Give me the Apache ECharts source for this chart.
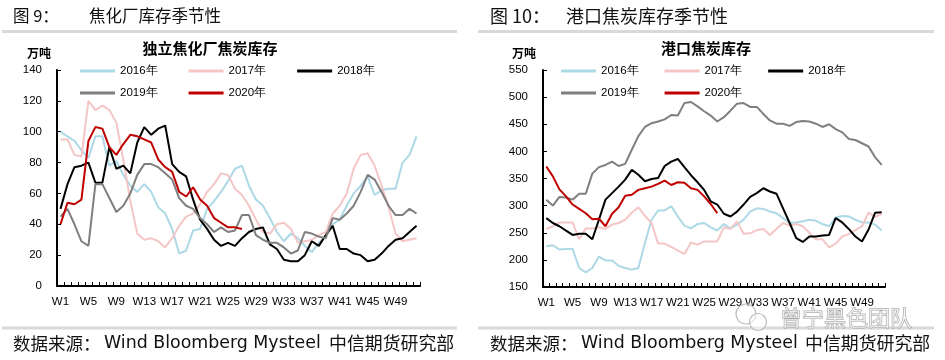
<!DOCTYPE html>
<html><head><meta charset="utf-8">
<script src="https://cdn.jsdelivr.net/npm/echarts@6/dist/echarts.min.js"></script>
<style>html,body{margin:0;padding:0;background:#fff}#c{width:945px;height:360px}</style>
</head><body><div id="c"></div>
<script>
const weeks = ['W1','W2','W3','W4','W5','W6','W7','W8','W9','W10','W11','W12','W13','W14','W15','W16','W17','W18','W19','W20','W21','W22','W23','W24','W25','W26','W27','W28','W29','W30','W31','W32','W33','W34','W35','W36','W37','W38','W39','W40','W41','W42','W43','W44','W45','W46','W47','W48','W49','W50','W51','W52'];
const yearNames = ['2016年','2017年','2018年','2019年','2020年'];

// 独立焦化厂焦炭库存 (万吨)
const coke2016 = [100,97,94,88,83,97,97,78,81,72,65,61,66,61,51,47,37,21,23,36,37,50,55,61,68,76,78,65,56,52,44,35,29,34,31,26,22,28,32,40,43,52,60,65,71,59,62,63,63,80,85,97];
const coke2017 = [95,95,85,84,120,114,117,114,106,82,55,34,30,31,29,25,31,39,45,47,53,61,66,73,72,63,59,52,43,35,34,40,41,37,28,29,30,33,35,47,52,60,76,85,86,78,65,51,34,29,30,31];
const coke2018 = [50,66,77,78,80,67,67,90,76,78,73,93,103,98,102,104,79,74,71,56,43,37,30,26,28,26,31,35,37,38,27,24,17,16,16,20,29,26,33,39,24,24,21,20,16,17,21,26,30,31,35,39];
const coke2019 = [45,50,40,29,26,66,66,57,48,52,60,72,79,79,77,73,69,57,52,50,44,40,35,38,35,36,46,46,33,30,28,28,25,21,23,35,34,32,31,44,43,47,52,61,72,69,61,52,46,46,50,47];
const coke2020 = [40,54,53,56,94,103,102,90,85,92,98,97,95,93,82,77,74,61,58,64,56,52,44,41,38,38,37];

// 港口焦炭库存 (万吨)
const port2016 = [225,227,219,220,220,185,177,185,206,199,199,189,185,182,185,231,274,291,291,299,280,263,258,266,268,260,254,266,258,265,274,289,295,294,289,286,277,268,269,271,274,272,266,262,278,281,280,274,269,269,265,254];
const port2017 = [257,262,269,269,269,238,258,258,260,257,265,268,274,287,297,281,268,230,230,224,217,211,232,228,234,234,234,260,257,271,248,249,255,257,246,257,268,263,266,262,250,238,238,223,230,243,248,255,262,287,279,285];
const port2018 = [277,268,262,254,246,248,248,238,274,311,323,335,348,366,357,345,349,351,373,381,386,371,356,343,329,308,302,285,280,289,302,316,323,332,326,322,295,268,240,233,243,243,245,246,277,269,257,243,234,256,287,288];
const port2019 = [311,300,316,315,311,322,322,359,371,375,381,373,377,403,428,445,452,455,459,467,466,489,491,483,474,466,455,463,475,488,489,482,482,469,457,451,451,447,454,456,455,451,445,450,441,435,423,421,415,409,389,375];
const port2020 = [372,354,330,317,302,294,286,275,276,262,285,297,318,320,329,332,335,340,346,338,343,342,332,329,317,303,286];

const leftTicks = {min:0, max:140, interval:20};
const rightTicks = {min:150, max:550, interval:50};

const colors = ['#ADD8E6','#F4C6C6','#000000','#7F7F7F','#C00000'];
const numFont = 'Liberation Sans, Arial, sans-serif';
const cjk = '"Noto Sans CJK SC", sans-serif';

function mk(name, data, idx, color) {
  return {name, type:'line', xAxisIndex:idx, yAxisIndex:idx, data, symbol:'none',
    lineStyle:{color, width:2}, itemStyle:{color}, animation:false};
}
const series = [];
[coke2016,coke2017,coke2018,coke2019,coke2020].forEach((d,i)=>series.push(mk(yearNames[i], d, 0, colors[i])));
[port2016,port2017,port2018,port2019,port2020].forEach((d,i)=>series.push(mk(yearNames[i], d, 1, colors[i])));

function xAx(g){ return {type:'category', gridIndex:g, data:weeks, boundaryGap:true,
  axisLine:{lineStyle:{color:'#000', width:2}},
  axisTick:{show:true, inside:true, length:4, interval:0, lineStyle:{color:'#000', width:1}},
  axisLabel:{interval:3, color:'#000', fontSize:11.5, margin:10, fontFamily:numFont},
  splitLine:{show:false}}; }
function yAx(g,t){ return {type:'value', gridIndex:g, min:t.min, max:t.max, interval:t.interval,
  axisLine:{show:true, lineStyle:{color:'#000', width:2}},
  axisTick:{show:true, inside:true, length:4, lineStyle:{color:'#000', width:1}},
  axisLabel:{color:'#000', fontSize:11.5, margin:15, fontFamily:numFont},
  splitLine:{show:false}}; }

function lg(left, top, data, gap){ return {left, top, data, padding:0, itemGap:gap, itemWidth:35, itemHeight:3, icon:'rect',
  textStyle:{color:'#000', fontSize:11.5, fontFamily:numFont}, selectedMode:false}; }

function txt(x, y, text, size, opts){ return Object.assign({type:'text', x, y, style:Object.assign({text, fill:'#111', font: size+'px '+cjk, textVerticalAlign:'middle'}, opts||{})}); }
function line(x, y, w, h){ return {type:'rect', shape:{x, y, width:w, height:h}, style:{fill:'#d9d9d9'}}; }

const graphic = [
  txt(13, 16, '图 9：', 16.5),
  txt(89, 16, '焦化厂库存季节性', 16.5),
  txt(490, 16, '图 10：', 18),
  txt(566, 16, '港口焦炭库存季节性', 18),
  line(2, 30, 455, 3), line(478, 30, 456, 3),
  line(2, 326.5, 455, 3), line(478, 326.5, 456, 3),
  {type:'text', x:27, y:53, style:{text:'万吨', fill:'#000', font:'bold 12px '+cjk, textVerticalAlign:'middle'}},
  {type:'text', x:512, y:53, style:{text:'万吨', fill:'#000', font:'bold 12px '+cjk, textVerticalAlign:'middle'}},
  {type:'text', x:210, y:48, style:{text:'独立焦化厂焦炭库存', fill:'#000', font:'bold 15px '+cjk, textAlign:'center', textVerticalAlign:'middle'}},
  {type:'text', x:706, y:48, style:{text:'港口焦炭库存', fill:'#000', font:'bold 15px '+cjk, textAlign:'center', textVerticalAlign:'middle'}},
  txt(13, 343, '数据来源：', 17.5),
  {type:'text', x:104, y:343, style:{text:'Wind Bloomberg Mysteel', fill:'#111', font:'17.4px DejaVu Sans, sans-serif', textVerticalAlign:'middle'}},
  txt(329, 343, '中信期货研究部', 17.9),
  txt(490, 343, '数据来源：', 17.5),
  {type:'text', x:581, y:343, style:{text:'Wind Bloomberg Mysteel', fill:'#111', font:'17.4px DejaVu Sans, sans-serif', textVerticalAlign:'middle'}},
  txt(805, 343, '中信期货研究部', 17.9),
  {type:'circle', z:100, shape:{cx:746, cy:314, r:10}, style:{fill:'rgba(255,255,255,0.5)', stroke:'#bbb', lineWidth:1.2}},
  {type:'circle', z:100, shape:{cx:758, cy:322, r:8.5}, style:{fill:'rgba(255,255,255,0.5)', stroke:'#bbb', lineWidth:1.2}},
  {type:'text', z:100, x:780, y:318, style:{text:'曾宁黑色团队', fill:'rgba(255,255,255,0.55)', stroke:'#a8a8a8', lineWidth:1, font:'22px '+cjk, textVerticalAlign:'middle'}}
];

const chart = echarts.init(document.getElementById('c'), null, {renderer:'canvas'});
chart.setOption({
  animation:false,
  backgroundColor:'#fff',
  grid:[{left:57, top:70, width:363, height:216}, {left:543, top:70, width:342, height:217}],
  xAxis:[xAx(0), xAx(1)],
  yAxis:[yAx(0,leftTicks), yAx(1,rightTicks)],
  legend:[
    lg(80, 65, yearNames.slice(0,3), 31),
    lg(80, 87, yearNames.slice(3), 31),
    lg(561, 65, yearNames.slice(0,3), 26),
    lg(561, 87, yearNames.slice(3), 26)
  ],
  series,
  graphic
});
</script></body></html>
